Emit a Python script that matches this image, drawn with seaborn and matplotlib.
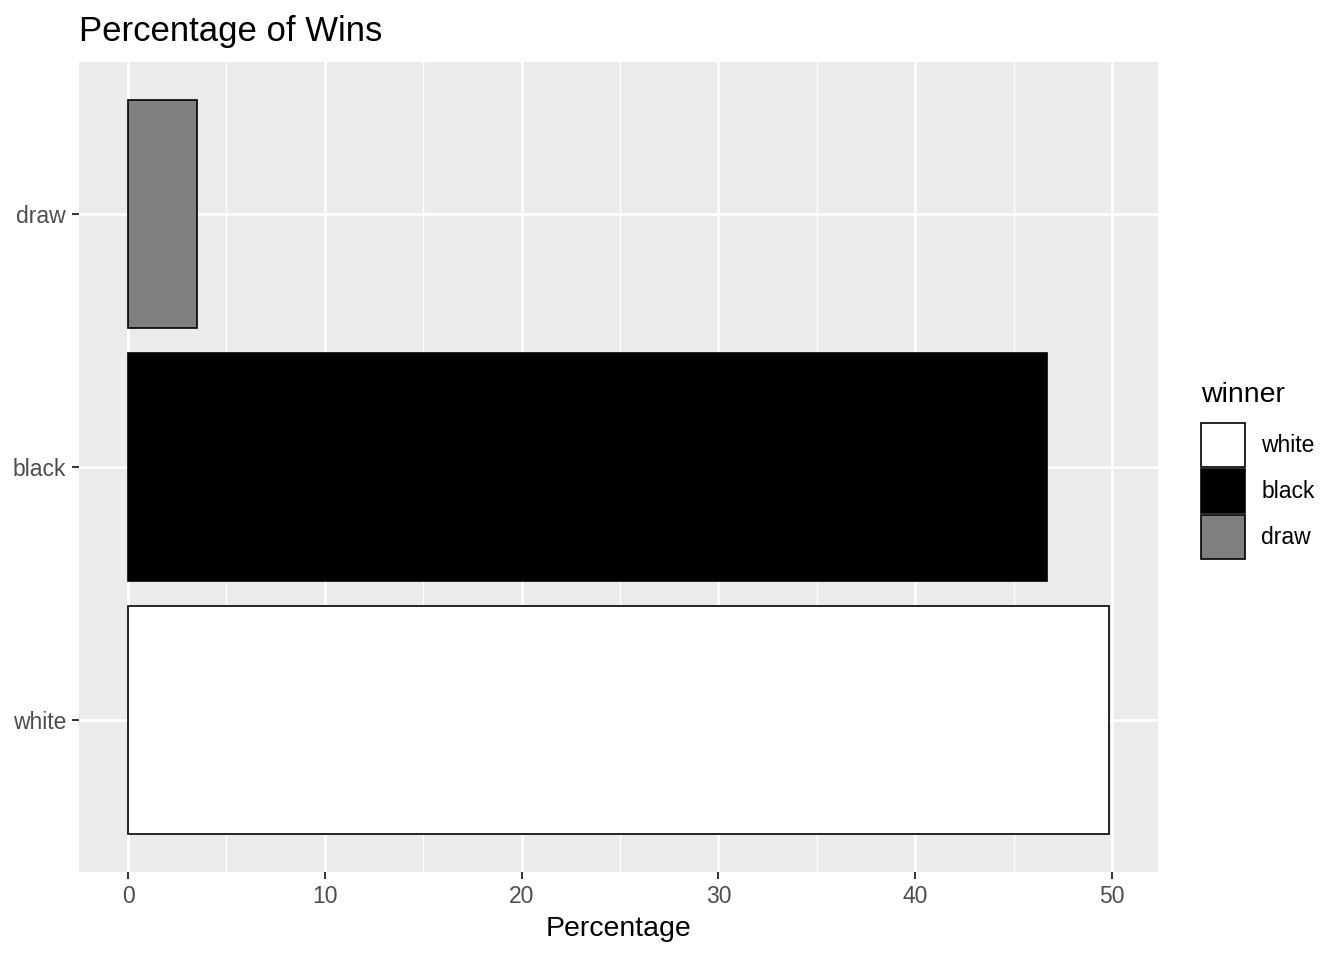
import seaborn as sns
import matplotlib.pyplot as plt
import pandas as pd
from matplotlib.patches import Patch
from matplotlib.ticker import MultipleLocator

# data
winner = ['white', 'black', 'draw']
percentage = [49.85, 46.70, 3.50]
fill_colors = ['#FFFFFF', '#000000', '#7F7F7F']

df = pd.DataFrame({'winner': winner, 'Percentage': percentage})
plot_order = winner[::-1]  # draw on top, white at bottom

sns.set_theme(style='darkgrid')
plt.rcParams['font.family'] = ['Liberation Sans', 'DejaVu Sans']

fig = plt.figure(figsize=(13.44, 9.6), dpi=100)
ax = fig.add_axes([79 / 1344, 1 - 872 / 960, (1158 - 79) / 1344, (872 - 62) / 960])

palette = dict(zip(winner, fill_colors))
sns.barplot(data=df, x='Percentage', y='winner', hue='winner', order=plot_order,
            palette=palette, width=0.9, edgecolor='black', linewidth=1.2,
            legend=False, ax=ax, saturation=1)

ax.set_facecolor('#EBEBEB')
ax.set_xlim(-2.49, 52.34)
ax.set_ylim(2.6, -0.6)
ax.xaxis.set_major_locator(MultipleLocator(10))
ax.xaxis.set_minor_locator(MultipleLocator(5))
ax.grid(which='major', color='white', linewidth=2.0)
ax.grid(which='minor', axis='x', color='white', linewidth=1.0)
ax.set_axisbelow(True)
for s in ax.spines.values():
    s.set_visible(False)

ax.tick_params(axis='both', which='major', length=5.3, width=1.4, color='#333333',
               labelcolor='#4D4D4D', labelsize=16.5, pad=4)
ax.tick_params(axis='x', which='minor', length=0)
ax.tick_params(axis='x', bottom=True)
ax.tick_params(axis='y', left=True)

ax.set_xlabel('Percentage', fontsize=20.5, color='black', labelpad=6)
ax.set_ylabel('')
fig.text(79 / 1344, 1 - 31 / 960, 'Percentage of Wins', fontsize=25, color='black',
         ha='left', va='center')

handles = [Patch(facecolor=c, edgecolor='black', linewidth=1.2, label=w)
           for w, c in zip(winner, fill_colors)]
leg = fig.legend(handles=handles, title='winner', loc='upper left',
                 bbox_to_anchor=(1192 / 1344, 1 - 373 / 960), frameon=False,
                 fontsize=16.5, title_fontsize=20.5, handlelength=1.92,
                 handleheight=2.58, labelspacing=0.1, handletextpad=0.7,
                 borderaxespad=0, labelcolor='black')
leg.get_title().set_color('black')
leg._legend_box.align = 'left'
leg._legend_box.sep = 10.5  # more room between title and keys

fig.savefig('out.png', dpi=100)
